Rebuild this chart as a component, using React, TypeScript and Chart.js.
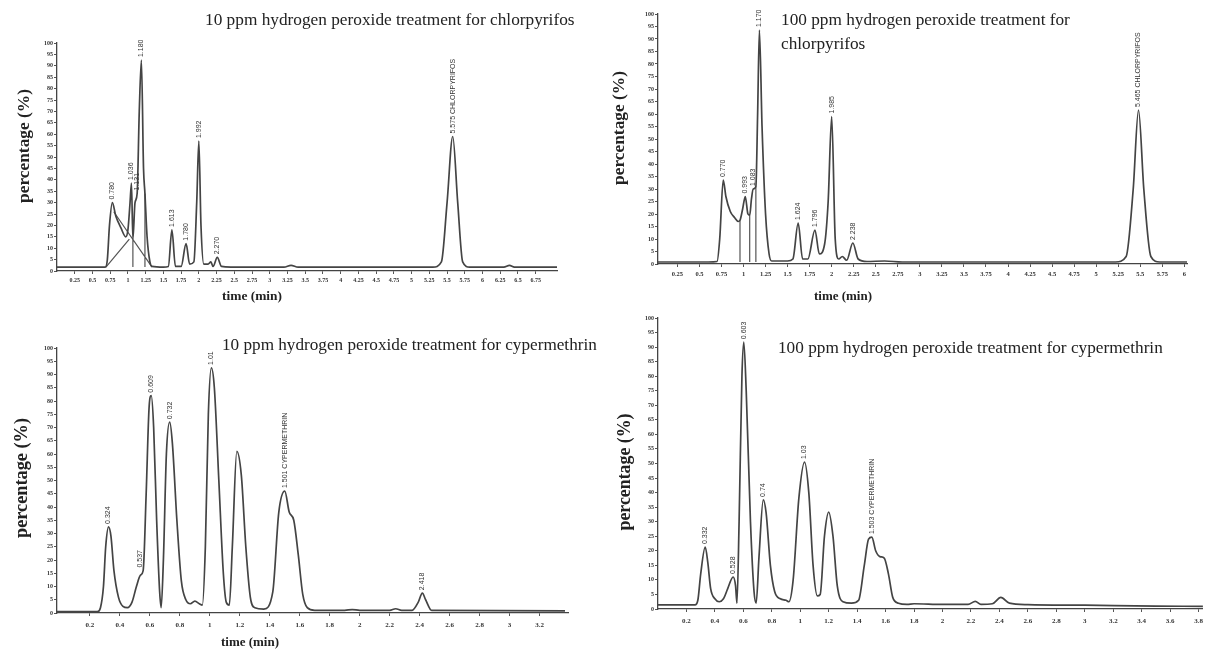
import React, { useEffect, useRef } from 'react';
import { Chart, registerables } from 'chart.js';
Chart.register(...registerables);

const W = 1208;
const H = 652;

// ---------- Panel 1: 10 ppm, chlorpyrifos ----------
const p1Time = [0, 0.68, 0.71, 0.74, 0.78, 0.83, 0.9, 0.97, 1.0, 1.03, 1.05, 1.07, 1.1, 1.13, 1.16, 1.19, 1.22, 1.24, 1.27, 1.31, 1.34, 1.5, 1.57, 1.62, 1.67, 1.75, 1.82, 1.87, 1.93, 1.97, 2.0, 2.03, 2.07, 2.13, 2.17, 2.2, 2.26, 2.32, 2.45, 3.2, 3.3, 3.4, 5.3, 5.42, 5.5, 5.58, 5.65, 5.72, 5.82, 6.3, 6.38, 6.45, 7.05];
const p1Signal = [1.7, 1.7, 5, 20, 30, 24, 19, 15, 18, 30, 38.6, 14, 30, 34, 70, 92.5, 45, 34, 15, 4, 2, 1.7, 2, 18, 2, 2, 12, 3, 4, 30, 57, 20, 3, 3, 4, 2, 6, 2, 1.7, 1.7, 2.5, 1.7, 1.7, 4, 30, 59, 30, 4, 1.7, 1.7, 2.5, 1.7, 1.7];
const p1GuideTime = [0.69, 1.02, null, 0.8, 1.34, null, 1.07, 1.07, null, 1.24, 1.24];
const p1GuideSignal = [1.7, 14, null, 26, 1.7, null, 1.7, 14, null, 1.7, 34];
const p1PeakTime = [0.78, 1.05, 1.13, 1.19, 1.62, 1.82, 2.0, 2.26, 5.58];
const p1PeakApex = [30, 38.6, 34, 92.5, 18, 12, 57, 6, 59];
const p1PeakText = ['0.780', '1.036', '1.131', '1.180', '1.613', '1.780', '1.992', '2.270', '5.575 CHLORPYRIFOS'];
const p1XTicks = [0.25, 0.5, 0.75, 1, 1.25, 1.5, 1.75, 2, 2.25, 2.5, 2.75, 3, 3.25, 3.5, 3.75, 4, 4.25, 4.5, 4.75, 5, 5.25, 5.5, 5.75, 6, 6.25, 6.5, 6.75];
const p1XTickLabels = ['0.25', '0.5', '0.75', '1', '1.25', '1.5', '1.75', '2', '2.25', '2.5', '2.75', '3', '3.25', '3.5', '3.75', '4', '4.25', '4.5', '4.75', '5', '5.25', '5.5', '5.75', '6', '6.25', '6.5', '6.75'];

// ---------- Panel 2: 100 ppm, chlorpyrifos ----------
const p2Time = [0.03, 0.6, 0.7, 0.73, 0.77, 0.8, 0.85, 0.9, 0.94, 0.96, 0.99, 1.02, 1.05, 1.07, 1.09, 1.11, 1.14, 1.16, 1.18, 1.21, 1.25, 1.29, 1.32, 1.5, 1.56, 1.62, 1.67, 1.73, 1.81, 1.86, 1.92, 1.96, 2.0, 2.04, 2.08, 2.12, 2.17, 2.24, 2.3, 2.4, 2.6, 2.8, 5.22, 5.34, 5.42, 5.48, 5.54, 5.62, 5.72, 6.03];
const p2Signal = [0.8, 0.8, 1, 10, 33.6, 27, 21, 18.5, 17, 17.5, 22, 27, 20, 19.5, 26, 30, 31, 60, 93.6, 55, 20, 4, 1.2, 1.2, 2, 16.4, 2, 2, 13.6, 4, 8, 25, 59, 10, 2, 3, 1.5, 8.4, 2, 1, 1.2, 0.8, 0.8, 3, 30, 61.6, 30, 3, 0.8, 0.8];
const p2GuideTime = [0.96, 0.96, null, 1.07, 1.07, null, 1.14, 1.14];
const p2GuideSignal = [0.8, 17.5, null, 0.8, 19.5, null, 0.8, 31];
const p2PeakTime = [0.77, 1.02, 1.11, 1.18, 1.62, 1.81, 2.0, 2.24, 5.48];
const p2PeakApex = [33.6, 27, 30, 93.6, 16.4, 13.6, 59, 8.4, 61.6];
const p2PeakText = ['0.770', '0.993', '1.083', '1.170', '1.624', '1.796', '1.985', '2.238', '5.465 CHLORPYRIFOS'];
const p2XTicks = [0.25, 0.5, 0.75, 1, 1.25, 1.5, 1.75, 2, 2.25, 2.5, 2.75, 3, 3.25, 3.5, 3.75, 4, 4.25, 4.5, 4.75, 5, 5.25, 5.5, 5.75, 6];
const p2XTickLabels = ['0.25', '0.5', '0.75', '1', '1.25', '1.5', '1.75', '2', '2.25', '2.5', '2.75', '3', '3.25', '3.5', '3.75', '4', '4.25', '4.5', '4.75', '5', '5.25', '5.5', '5.75', '6'];

// ---------- Panel 3: 10 ppm, cypermethrin ----------
const p3Time = [-0.02, 0.25, 0.27, 0.29, 0.305, 0.324, 0.34, 0.36, 0.39, 0.42, 0.45, 0.48, 0.51, 0.537, 0.555, 0.575, 0.595, 0.609, 0.625, 0.645, 0.665, 0.675, 0.69, 0.71, 0.732, 0.75, 0.78, 0.81, 0.84, 0.87, 0.9, 0.93, 0.95, 0.97, 0.99, 1.01, 1.03, 1.06, 1.09, 1.11, 1.13, 1.15, 1.18, 1.21, 1.24, 1.27, 1.3, 1.36, 1.42, 1.46, 1.5, 1.53, 1.56, 1.59, 1.62, 1.65, 1.7, 1.9, 1.95, 2.0, 2.2, 2.24, 2.28, 2.35, 2.39, 2.418, 2.44, 2.48, 3.37];
const p3Signal = [0.5, 0.5, 2, 10, 25, 32.5, 29, 16, 6, 2.5, 2, 4, 10, 14.3, 16, 45, 78, 82, 70, 35, 8, 2, 20, 60, 72, 64, 35, 12, 5, 3.5, 4.5, 3.5, 3, 25, 75, 92.5, 85, 50, 15, 4, 3, 25, 61, 52, 25, 6, 2, 1.5, 8, 38, 46, 38, 35, 22, 7, 2, 1, 1, 1.3, 1, 1, 1.6, 1, 1, 4, 7.5, 5, 1, 0.8];
const p3PeakTime = [0.324, 0.537, 0.609, 0.732, 1.01, 1.5, 2.418];
const p3PeakApex = [32.5, 16, 82, 72, 92.5, 46, 7.5];
const p3PeakText = ['0.324', '0.537', '0.609', '0.732', '1.01', '1.501 CYPERMETHRIN', '2.418'];
const p3XTicks = [0.2, 0.4, 0.6, 0.8, 1, 1.2, 1.4, 1.6, 1.8, 2, 2.2, 2.4, 2.6, 2.8, 3, 3.2];
const p3XTickLabels = ['0.2', '0.4', '0.6', '0.8', '1', '1.2', '1.4', '1.6', '1.8', '2', '2.2', '2.4', '2.6', '2.8', '3', '3.2'];

// ---------- Panel 4: 100 ppm, cypermethrin ----------
const p4Time = [0, 0.26, 0.28, 0.3, 0.332, 0.35, 0.37, 0.4, 0.43, 0.46, 0.49, 0.528, 0.545, 0.555, 0.57, 0.59, 0.603, 0.62, 0.65, 0.675, 0.69, 0.71, 0.74, 0.76, 0.79, 0.82, 0.86, 0.9, 0.92, 0.95, 0.99, 1.03, 1.06, 1.09, 1.12, 1.14, 1.17, 1.2, 1.23, 1.26, 1.3, 1.36, 1.41, 1.45, 1.48, 1.503, 1.53, 1.56, 1.59, 1.62, 1.65, 1.69, 1.75, 1.8, 2.0, 2.18, 2.23, 2.27, 2.35, 2.41, 2.47, 2.6, 3.0, 3.5, 3.83];
const p4Signal = [1.4, 1.4, 3, 12, 21.3, 16, 7, 3.5, 2.5, 3.5, 7, 11, 8, 2, 30, 80, 91.7, 75, 30, 6, 2, 18, 37.5, 33, 15, 6, 3.5, 3, 2.5, 10, 38, 50.5, 40, 15, 4.5, 5, 25, 33.3, 25, 8, 2.5, 2, 3, 15, 24, 24.7, 20, 18, 17.5, 12, 4, 2, 1.6, 1.8, 1.6, 1.6, 2.6, 1.6, 1.8, 4, 2, 1.5, 1.3, 1.0, 0.9];
const p4PeakTime = [0.332, 0.528, 0.603, 0.74, 1.03, 1.503];
const p4PeakApex = [21.3, 11, 91.7, 37.5, 50.5, 24.7];
const p4PeakText = ['0.332', '0.528', '0.603', '0.74', '1.03', '1.503 CYPERMETHRIN'];
const p4XTicks = [0.2, 0.4, 0.6, 0.8, 1, 1.2, 1.4, 1.6, 1.8, 2, 2.2, 2.4, 2.6, 2.8, 3, 3.2, 3.4, 3.6, 3.8];
const p4XTickLabels = ['0.2', '0.4', '0.6', '0.8', '1', '1.2', '1.4', '1.6', '1.8', '2', '2.2', '2.4', '2.6', '2.8', '3', '3.2', '3.4', '3.6', '3.8'];

const titleP1 = ['10 ppm hydrogen peroxide treatment for chlorpyrifos'];
const titleP2 = ['100 ppm hydrogen peroxide treatment for', 'chlorpyrifos'];
const titleP3 = ['10 ppm hydrogen peroxide treatment for cypermethrin'];
const titleP4 = ['100 ppm hydrogen peroxide treatment for cypermethrin'];
const yTitle = 'percentage (%)';
const xTitle = 'time (min)';

const toPoints = (xs: (number | null)[], ys: (number | null)[]) =>
  xs.map((x, i) => ({ x: x as any, y: ys[i] as any }));

const YW = 30;
const XH = 22;
const INK = '#333';
const SERIF = '"Liberation Serif", "DejaVu Serif", serif';

type Panel = {
  area: { l: number; r: number; t: number; b: number };
  xMin: number;
  xMax: number;
  xTicks: number[];
  xTickLabels: string[];
  xFont: number;
  yFont: number;
  tickPad: number;
  trace: { x: number; y: number }[];
  guides: { x: any; y: any }[] | null;
  peakTime: number[];
  peakApex: number[];
  peakText: string[];
  titleLines: string[];
  titlePos: { x: number; y: number; w: number; lh: number };
  yTitlePos: { x: number; y: number; len: number };
  xTitlePos: { x: number; y: number; w: number } | null;
};

const panels: Panel[] = [
  {
    area: { l: 57, r: 557, t: 43, b: 271 },
    xMin: 0, xMax: 7.05,
    xTicks: p1XTicks, xTickLabels: p1XTickLabels, xFont: 6, yFont: 6, tickPad: 3,
    trace: toPoints(p1Time, p1Signal) as any,
    guides: toPoints(p1GuideTime, p1GuideSignal),
    peakTime: p1PeakTime, peakApex: p1PeakApex, peakText: p1PeakText,
    titleLines: titleP1,
    titlePos: { x: 205, y: 20, w: 370, lh: 24 },
    yTitlePos: { x: 25, y: 146, len: 114 },
    xTitlePos: { x: 252, y: 297, w: 60 },
  },
  {
    area: { l: 658, r: 1187, t: 14, b: 264 },
    xMin: 0.03, xMax: 6.03,
    xTicks: p2XTicks, xTickLabels: p2XTickLabels, xFont: 6.5, yFont: 6, tickPad: 3,
    trace: toPoints(p2Time, p2Signal) as any,
    guides: toPoints(p2GuideTime, p2GuideSignal),
    peakTime: p2PeakTime, peakApex: p2PeakApex, peakText: p2PeakText,
    titleLines: titleP2,
    titlePos: { x: 781, y: 20, w: 289, lh: 24 },
    yTitlePos: { x: 620, y: 128, len: 114 },
    xTitlePos: { x: 843, y: 297, w: 58 },
  },
  {
    area: { l: 57, r: 568, t: 348, b: 613 },
    xMin: -0.02, xMax: 3.39,
    xTicks: p3XTicks, xTickLabels: p3XTickLabels, xFont: 7, yFont: 6, tickPad: 5,
    trace: toPoints(p3Time, p3Signal) as any,
    guides: null,
    peakTime: p3PeakTime, peakApex: p3PeakApex, peakText: p3PeakText,
    titleLines: titleP3,
    titlePos: { x: 222, y: 345, w: 375, lh: 24 },
    yTitlePos: { x: 22, y: 478, len: 120 },
    xTitlePos: { x: 250, y: 643, w: 58 },
  },
  {
    area: { l: 658, r: 1207, t: 318, b: 609 },
    xMin: 0, xMax: 3.83,
    xTicks: p4XTicks, xTickLabels: p4XTickLabels, xFont: 7, yFont: 6, tickPad: 5,
    trace: toPoints(p4Time, p4Signal) as any,
    guides: null,
    peakTime: p4PeakTime, peakApex: p4PeakApex, peakText: p4PeakText,
    titleLines: titleP4,
    titlePos: { x: 778, y: 348, w: 385, lh: 24 },
    yTitlePos: { x: 625, y: 472, len: 117 },
    xTitlePos: null,
  },
];

function fitFont(ctx: CanvasRenderingContext2D, text: string, target: number, base: number, weight: string) {
  ctx.font = `${weight} ${base}px ${SERIF}`;
  const m = ctx.measureText(text).width;
  const size = base * (target / m);
  ctx.font = `${weight} ${size.toFixed(2)}px ${SERIF}`;
}

function makePlugin(p: Panel) {
  return {
    id: 'panelText',
    afterDatasetsDraw(chart: any) {
      const ctx: CanvasRenderingContext2D = chart.ctx;
      const xs = chart.scales.x;
      const ys = chart.scales.y;
      ctx.save();
      ctx.fillStyle = INK;
      // peak labels
      ctx.font = `7px "Liberation Sans", Arial, sans-serif`;
      ctx.textAlign = 'left';
      ctx.textBaseline = 'middle';
      p.peakTime.forEach((t, i) => {
        const px = xs.getPixelForValue(t);
        const py = ys.getPixelForValue(p.peakApex[i]) - 3;
        ctx.save();
        ctx.translate(px, py);
        ctx.rotate(-Math.PI / 2);
        ctx.fillText(p.peakText[i], 0, 0);
        ctx.restore();
      });
      // titles (size fitted to the first line, same size for every line)
      ctx.fillStyle = '#222';
      ctx.textAlign = 'left';
      ctx.textBaseline = 'middle';
      fitFont(ctx, p.titleLines[0], p.titlePos.w, 16, 'normal');
      p.titleLines.forEach((line, i) => {
        ctx.fillText(line, p.titlePos.x, p.titlePos.y + i * p.titlePos.lh);
      });
      // y title
      fitFont(ctx, yTitle, p.yTitlePos.len, 16, 'bold');
      ctx.save();
      ctx.translate(p.yTitlePos.x, p.yTitlePos.y);
      ctx.rotate(-Math.PI / 2);
      ctx.textAlign = 'center';
      ctx.fillText(yTitle, 0, 0);
      ctx.restore();
      // x title
      if (p.xTitlePos) {
        fitFont(ctx, xTitle, p.xTitlePos.w, 13, 'bold');
        ctx.textAlign = 'center';
        ctx.fillText(xTitle, p.xTitlePos.x, p.xTitlePos.y);
      }
      ctx.restore();
    },
  };
}

function PanelChart({ p }: { p: Panel }) {
  const ref = useRef<HTMLCanvasElement | null>(null);
  useEffect(() => {
    if (!ref.current) return;
    const datasets: any[] = [
      {
        data: p.trace,
        borderColor: '#444',
        borderWidth: 1.7,
        pointRadius: 0,
        fill: false,
        cubicInterpolationMode: 'monotone',
      },
    ];
    if (p.guides) {
      datasets.push({
        data: p.guides,
        borderColor: '#555',
        borderWidth: 1.2,
        pointRadius: 0,
        fill: false,
        spanGaps: false,
        tension: 0,
      });
    }
    const chart = new Chart(ref.current, {
      type: 'line',
      data: { datasets },
      plugins: [makePlugin(p) as any],
      options: {
        responsive: false,
        animation: false,
        devicePixelRatio: 1,
        events: [],
        layout: {
          padding: {
            left: p.area.l - YW,
            top: p.area.t,
            right: W - p.area.r,
            bottom: H - p.area.b - XH,
          },
        },
        plugins: {
          legend: { display: false },
          tooltip: { enabled: false },
          title: { display: false },
        },
        scales: {
          x: {
            type: 'linear',
            min: p.xMin,
            max: p.xMax,
            afterFit: (s: any) => { s.height = XH; },
            afterBuildTicks: (s: any) => { s.ticks = p.xTicks.map((v) => ({ value: v })); },
            ticks: {
              autoSkip: false,
              maxRotation: 0,
              minRotation: 0,
              padding: p.tickPad,
              color: '#333',
              font: { size: p.xFont, family: SERIF, weight: 'bold' },
              callback: (_v: any, i: number) => p.xTickLabels[i],
            },
            grid: { display: true, drawOnChartArea: false, tickLength: 3, color: '#555' },
            border: { display: true, color: '#444', width: 1.3 },
          },
          y: {
            type: 'linear',
            min: 0,
            max: 100,
            afterFit: (s: any) => { s.width = YW; },
            ticks: {
              stepSize: 5,
              autoSkip: false,
              padding: 1,
              color: '#333',
              font: { size: p.yFont, family: SERIF, weight: 'bold' },
            },
            grid: { display: true, drawOnChartArea: false, tickLength: 3, color: '#555' },
            border: { display: true, color: '#444', width: 1.3 },
          },
        },
      } as any,
    });
    return () => chart.destroy();
  }, [p]);
  return (
    <canvas
      ref={ref}
      width={W}
      height={H}
      style={{ position: 'absolute', left: 0, top: 0, width: W, height: H }}
    />
  );
}

export default function App() {
  return (
    <div style={{ position: 'absolute', left: 0, top: 0, width: W, height: H, background: '#fff', overflow: 'hidden' }}>
      {panels.map((p, i) => (
        <PanelChart key={i} p={p} />
      ))}
    </div>
  );
}
